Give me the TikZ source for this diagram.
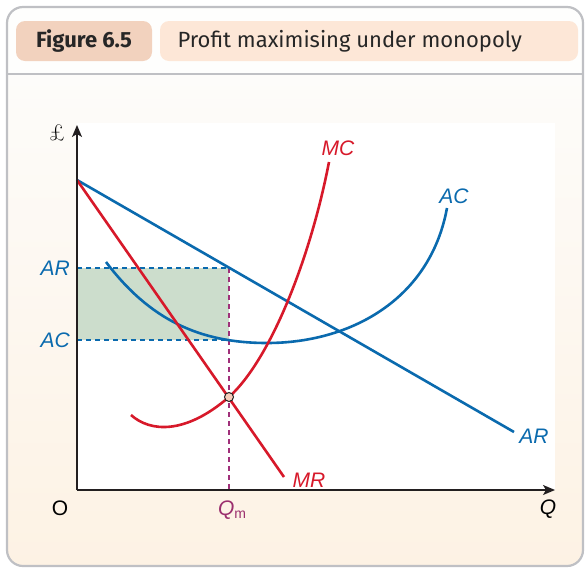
\documentclass[tikz,border=0pt]{standalone}
\usepackage{fontspec}
\setmainfont{Liberation Sans}
\newfontfamily\headfont{Fira Sans}
\newfontfamily\lmserif{Latin Modern Roman}
\usetikzlibrary{arrows.meta}
\definecolor{cred}{HTML}{D7192A}
\definecolor{cblue}{HTML}{0A6AAE}
\definecolor{cshade}{HTML}{CCDDCC}
\definecolor{cpurple}{HTML}{A0307A}
\definecolor{cqm}{HTML}{9B2F6E}
\definecolor{cdot}{HTML}{F7CDBB}
\definecolor{badgeA}{HTML}{F2D2BE}
\definecolor{badgeB}{HTML}{FDE7D7}
\definecolor{cborder}{HTML}{BFC0C4}
\definecolor{bodytop}{HTML}{FDFCFA}
\definecolor{bodybot}{HTML}{FDF2E4}
\definecolor{caxis}{HTML}{231F20}
\tikzset{
  curve/.style={line width=2.6pt},
  axisline/.style={line width=1.4pt, draw=caxis, -{Stealth[length=12pt,width=10pt,inset=3pt]}},
  bluedash/.style={draw=cblue, line width=1.8pt, dash pattern=on 5pt off 4pt},
  purpdash/.style={draw=cpurple, line width=1.4pt, dash pattern=on 5pt off 4pt},
  lab/.style={font=\fontsize{21}{23}\selectfont\itshape, inner sep=0pt},
  badge/.style={rounded corners=9pt, inner sep=0pt},
}
\begin{document}
\begin{tikzpicture}[x=1pt,y=-1pt]
\useasboundingbox (0,0) rectangle (586,568);
% panel
\begin{scope}
  \clip[rounded corners=16pt] (7,7) rectangle (583,566);
  \fill[white!60!bodytop] (7,7) rectangle (583,74);
  \shade[top color=bodytop, bottom color=bodybot] (7,74) rectangle (583,566);
  \fill[white] (77,123) rectangle (555,490);
\end{scope}
\draw[cborder, line width=2pt] (7,74) -- (583,74);
\draw[cborder, line width=2.2pt, rounded corners=16pt] (7,7) rectangle (583,566);
% header badges
\fill[badgeA, badge] (16,21) rectangle (152,61);
\fill[badgeB, badge] (160,21) rectangle (578,61);
\node[font=\headfont\bfseries\fontsize{22}{24}\selectfont, text=black!85] (fig) at (84,41) {Figure 6.5};
\node[font=\headfont\fontsize{22}{24}\selectfont, text=black!85, anchor=west] (title) at (174,41) {Profit maximising under monopoly};
% key coordinates
\coordinate (O) at (77,490);
\coordinate (ytop) at (77,125);
\coordinate (xend) at (555,490);
\coordinate (P0) at (77,180);
\coordinate (ARend) at (514,432);
\coordinate (MRend) at (284,477);
\coordinate (ARpt) at (229,268);
\coordinate (ACpt) at (229,340);
\coordinate (yAR) at (77,268);
\coordinate (yAC) at (77,340);
\coordinate (Qm) at (229,490);
% profit area
\fill[cshade] (yAR) rectangle (ACpt);
\draw[bluedash] (yAR) -- (ARpt);
\draw[bluedash] (yAC) -- (ACpt);
\draw[purpdash] (ARpt) -- (Qm);
% curves
\draw[cblue, curve] (106,262) .. controls (150,320) and (200,343) .. (267,343)
                          .. controls (350,343) and (430,300) .. (447,208);
\draw[cblue, curve] (P0) -- (ARend);
\draw[cred, curve] (P0) -- (MRend);
\draw[cred, curve] (131,415) .. controls (150,432) and (185,435) .. (229,397)
                         .. controls (270,360) and (310,260) .. (329,162);
% axes
\draw[axisline] (O) -- (ytop);
\draw[axisline] (O) -- (xend);
% equilibrium point
\node[circle, draw=caxis, fill=cdot, line width=1pt, minimum size=9pt, inner sep=0pt] (eq) at (229,397) {};
% labels
\node[font=\lmserif\fontsize{23}{24}\selectfont, inner sep=0pt] (pound) at (57,133) {£};
\node[font=\fontsize{21}{23}\selectfont, inner sep=0pt] (olab) at (60,508) {O};
\node[lab] (qlab) at (548,509) {Q};
\node[lab, text=cqm] (qmlab) at (232,510) {Q{\upshape\fontsize{14}{14}\selectfont\raisebox{-3pt}{m}}};
\node[lab, text=cblue, anchor=east] (arl) at (70,268) {AR};
\node[lab, text=cblue, anchor=east] (acl) at (70,340) {AC};
\node[lab, text=cred] (mcl) at (338,148) {MC};
\node[lab, text=cblue] (acr) at (454,196) {AC};
\node[lab, text=cblue] (arr) at (534,436) {AR};
\node[lab, text=cred] (mrl) at (309,480) {MR};
\end{tikzpicture}
\end{document}
